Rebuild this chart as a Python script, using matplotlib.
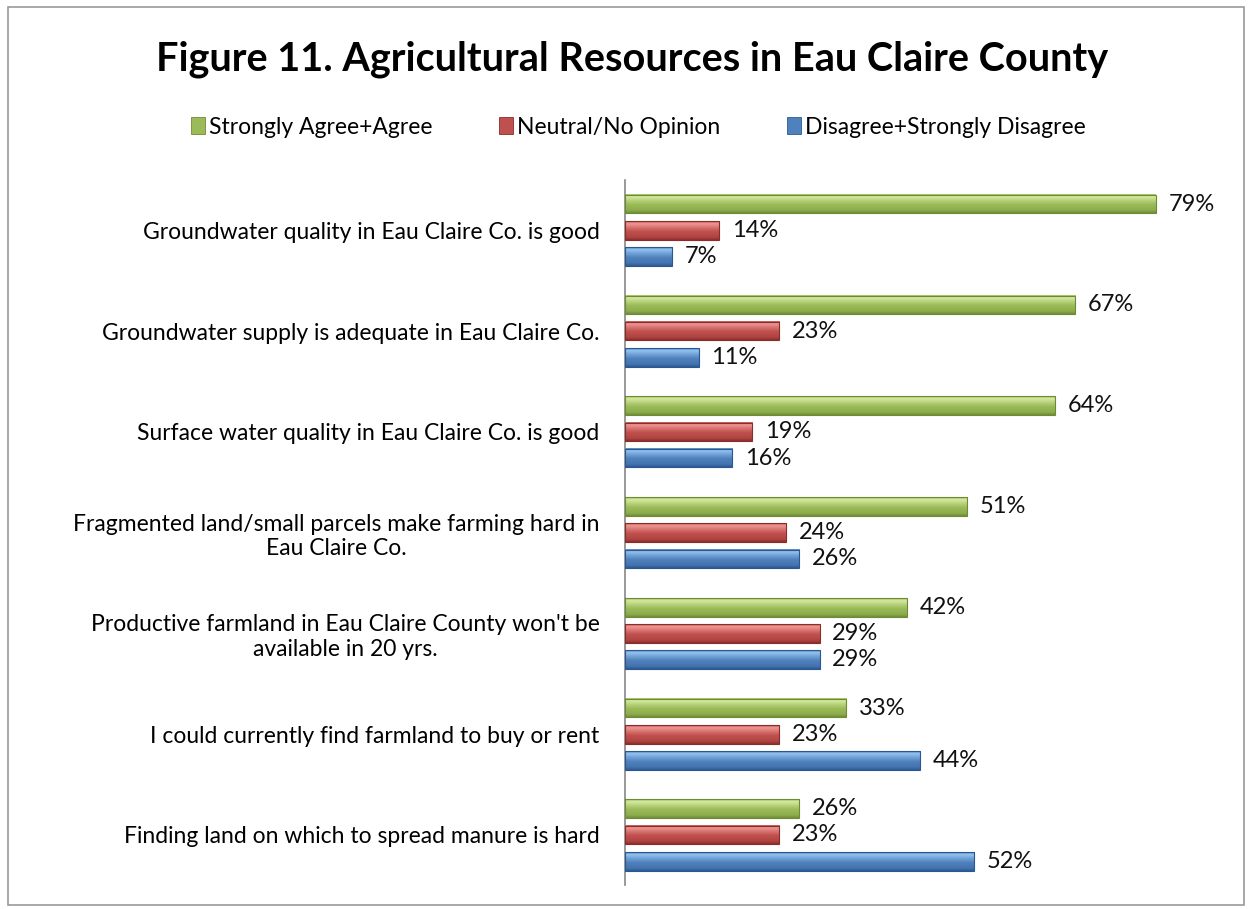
import numpy as np
import matplotlib.pyplot as plt
from matplotlib.colors import LinearSegmentedColormap
from matplotlib.patches import Rectangle

# data
questions = [
    "Groundwater quality in Eau Claire Co. is good",
    "Groundwater supply is adequate in Eau Claire Co.",
    "Surface water quality in Eau Claire Co. is good",
    "Fragmented land/small parcels make farming hard in\nEau Claire Co.",
    "Productive farmland in Eau Claire County won't be\navailable in 20 yrs.",
    "I could currently find farmland to buy or rent",
    "Finding land on which to spread manure is hard",
]
agree = [79, 67, 64, 51, 42, 33, 26]
neutral = [14, 23, 19, 24, 29, 23, 23]
disagree = [7, 11, 16, 26, 29, 44, 52]
series_names = ["Strongly Agree+Agree", "Neutral/No Opinion", "Disagree+Strongly Disagree"]

# (dark, mid, light) for the bevelled bar look
shades = [("#6E8B34", "#9BBB59", "#DCEFA8"),
          ("#8A2C2A", "#C0504D", "#F4A09D"),
          ("#2B5790", "#4F81BD", "#9CCBF5")]

plt.rcParams["font.family"] = ["Lato", "DejaVu Sans"]

fig = plt.figure(figsize=(12.52, 9.09), dpi=100)
ax = fig.add_axes([0.499, 0.026, 0.483, 0.776])

n = len(questions)
centers = np.arange(n)
offsets = [-0.26, 0.0, 0.26]
bar_h = 0.185

# vertical shading profile, top to bottom (0 = dark, 0.5 = mid, 1 = light)
t = np.linspace(0, 1, 40)
shade = np.interp(t, [0, 0.12, 0.3, 0.55, 0.85, 1], [0.55, 0.95, 0.75, 0.5, 0.35, 0.05])[:, None]

for values, off, (dark, mid, light), name in zip([agree, neutral, disagree], offsets, shades, series_names):
    cmap = LinearSegmentedColormap.from_list(name, [dark, mid, light])
    for i, v in enumerate(values):
        y = centers[i] + off
        ax.imshow(shade, cmap=cmap, vmin=0, vmax=1, aspect="auto",
                  extent=(0, v, y + bar_h / 2, y - bar_h / 2), zorder=2,
                  interpolation="bilinear")
        ax.add_patch(Rectangle((0, y - bar_h / 2), v, bar_h, fill=False,
                               edgecolor=dark, lw=0.8, zorder=3))
        ax.text(v + 1.9, y, f"{v}%", va="center", ha="left", fontsize=17, color="#111111")
    # legend proxy
    ax.bar(0, 0, color=mid, edgecolor=dark, lw=0.6, label=name)

ax.set_xlim(0, 90)
ax.set_ylim(n - 0.5, -0.5)
ax.set_yticks(centers)
ax.set_yticklabels(questions, fontsize=16.5, multialignment="center")
ax.tick_params(axis="y", length=0, pad=18)
ax.set_xticks([])
for side in ["top", "right", "bottom"]:
    ax.spines[side].set_visible(False)
ax.spines["left"].set_color("#888888")
ax.spines["left"].set_linewidth(1.2)

fig.text(0.505, 0.935, "Figure 11. Agricultural Resources in Eau Claire County",
         ha="center", va="center", fontsize=28.5, fontweight="bold")

handles, labels = ax.get_legend_handles_labels()
fig.legend(handles, labels, loc="center", bbox_to_anchor=(0.51, 0.86), ncol=3,
           frameon=False, fontsize=16.5, handlelength=0.6, handleheight=0.75,
           handletextpad=0.2, columnspacing=2.9)

fig.add_artist(Rectangle((0.006, 0.004), 0.988, 0.988, transform=fig.transFigure,
                         fill=False, edgecolor="#999999", lw=1.2))

fig.savefig("out.png", dpi=100)
